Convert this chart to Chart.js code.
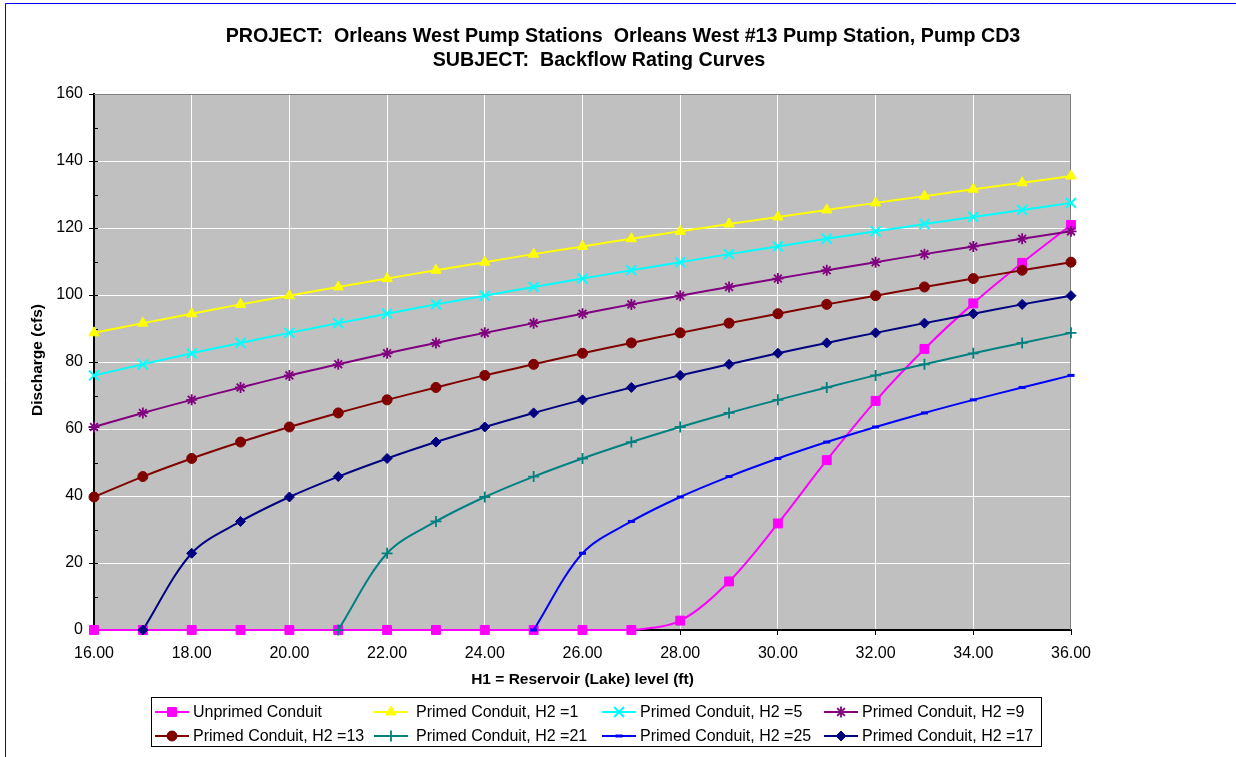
<!DOCTYPE html>
<html>
<head>
<meta charset="utf-8">
<script src="https://cdn.jsdelivr.net/npm/chart.js@4/dist/chart.umd.min.js"></script>
<style>
  html, body { margin: 0; padding: 0; background: #fff; }
  #wrap { width: 1236px; height: 757px; position: relative; }
</style>
</head>
<body>
<div id="wrap"><canvas id="c" width="1236" height="757"></canvas></div>
<script>
// ---- data ----
const levels = [16,17,18,19,20,21,22,23,24,25,26,27,28,29,30,31,32,33,34,35,36];
const seriesLabels = [
  "Unprimed Conduit",
  "Primed Conduit, H2 =1",
  "Primed Conduit, H2 =5",
  "Primed Conduit, H2 =9",
  "Primed Conduit, H2 =13",
  "Primed Conduit, H2 =21",
  "Primed Conduit, H2 =25",
  "Primed Conduit, H2 =17"
];
const unprimed = [0,0,0,0,0,0,0,0,0,0,0,0,2.8,14.5,31.8,50.7,68.4,83.9,97.5,109.6,120.9];
const primedH2_1 = [88.7,91.6,94.4,97.2,99.8,102.4,104.9,107.4,109.8,112.2,114.5,116.8,119.0,121.2,123.3,125.4,127.5,129.5,131.6,133.5,135.5];
const primedH2_5 = [76.0,79.3,82.6,85.7,88.7,91.6,94.4,97.2,99.8,102.4,104.9,107.4,109.8,112.2,114.5,116.8,119.0,121.2,123.3,125.4,127.5];
const primedH2_9 = [60.6,64.8,68.7,72.4,76.0,79.3,82.6,85.7,88.7,91.6,94.4,97.2,99.8,102.4,104.9,107.4,109.8,112.2,114.5,116.8,119.0];
const primedH2_13 = [39.7,45.8,51.2,56.1,60.6,64.8,68.7,72.4,76.0,79.3,82.6,85.7,88.7,91.6,94.4,97.2,99.8,102.4,104.9,107.4,109.8];
const primedH2_21 = [null,null,null,null,null,0,22.9,32.4,39.7,45.8,51.2,56.1,60.6,64.8,68.7,72.4,76.0,79.3,82.6,85.7,88.7];
const primedH2_25 = [null,null,null,null,null,null,null,null,null,0,22.9,32.4,39.7,45.8,51.2,56.1,60.6,64.8,68.7,72.4,76.0];
const primedH2_17 = [null,0,22.9,32.4,39.7,45.8,51.2,56.1,60.6,64.8,68.7,72.4,76.0,79.3,82.6,85.7,88.7,91.6,94.4,97.2,99.8];
const yTicks = [0,20,40,60,80,100,120,140,160];
const xTickLabels = ["16.00","18.00","20.00","22.00","24.00","26.00","28.00","30.00","32.00","34.00","36.00"];
const titleLines = ["PROJECT:  Orleans West Pump Stations  Orleans West #13 Pump Station, Pump CD3", "SUBJECT:  Backflow Rating Curves"];
const yTitle = "Discharge (cfs)";
const xTitle = "H1 = Reservoir (Lake) level (ft)";

// ---- styles ----
const allValues = [unprimed, primedH2_1, primedH2_5, primedH2_9, primedH2_13, primedH2_21, primedH2_25, primedH2_17];
const colors = ["#FF00FF","#FFFF00","#00FFFF","#800080","#800000","#008080","#0000FF","#000080"];
const styles = [
  {pointStyle:'rect', radius:6.3, bw:1},
  {pointStyle:'triangle', radius:6, bw:1},
  {pointStyle:'crossRot', radius:7, bw:2},
  {pointStyle:'star', radius:5.5, bw:1.8},
  {pointStyle:'circle', radius:5, bw:1},
  {pointStyle:'cross', radius:5.5, bw:1.8},
  {pointStyle:'line', radius:3.5, bw:3},
  {pointStyle:'rectRot', radius:5, bw:1}
];
const FONT = "'Liberation Sans', Arial, sans-serif";

const datasets = allValues.map((vals, i) => ({
  label: seriesLabels[i],
  data: levels.map((x, k) => ({x: x, y: vals[k]})),
  borderColor: colors[i],
  backgroundColor: colors[i],
  pointBackgroundColor: colors[i],
  pointBorderColor: colors[i],
  pointStyle: styles[i].pointStyle,
  pointRadius: styles[i].radius,
  pointHoverRadius: styles[i].radius,
  pointBorderWidth: styles[i].bw,
  borderWidth: 2,
  tension: 0.33,
  fill: false,
  spanGaps: false,
  clip: false,
  order: allValues.length - i
}));

const decor = {
  id: 'decor',
  beforeDraw(chart) {
    const ctx = chart.ctx, a = chart.chartArea;
    ctx.save();
    ctx.fillStyle = '#fff';
    ctx.fillRect(0, 0, chart.width, chart.height);
    ctx.fillStyle = '#C0C0C0';
    ctx.fillRect(a.left, a.top, a.right - a.left, a.bottom - a.top);
    ctx.restore();
  },
  beforeDatasetsDraw(chart) {
    const ctx = chart.ctx, a = chart.chartArea;
    const ys = chart.scales.y;
    ctx.save();
    // top/right plot border
    ctx.strokeStyle = '#808080';
    ctx.lineWidth = 1;
    ctx.beginPath();
    ctx.moveTo(a.left, a.top + 0.5);
    ctx.lineTo(a.right - 0.5, a.top + 0.5);
    ctx.lineTo(a.right - 0.5, a.bottom);
    ctx.stroke();
    // inner minor ticks
    ctx.strokeStyle = '#000';
    ctx.beginPath();
    for (let v = 10; v < 160; v += 10) {
      const py = Math.round(ys.getPixelForValue(v)) + 0.5;
      ctx.moveTo(a.left, py);
      ctx.lineTo(a.left + 4, py);
    }
    ctx.stroke();
    ctx.restore();
  },
  afterDraw(chart) {
    const ctx = chart.ctx, a = chart.chartArea;
    ctx.save();
    // titles
    ctx.fillStyle = '#000';
    ctx.textAlign = 'center';
    ctx.textBaseline = 'middle';
    ctx.font = 'bold 19.7px ' + FONT;
    ctx.fillText(titleLines[0], 623, 37);
    ctx.fillText(titleLines[1], 599, 61);
    // axis titles
    ctx.font = 'bold 15.5px ' + FONT;
    ctx.fillText(xTitle, (a.left + a.right) / 2, 680);
    ctx.save();
    ctx.translate(38, 360);
    ctx.rotate(-Math.PI / 2);
    ctx.fillText(yTitle, 0, 0);
    ctx.restore();
    // legend
    ctx.strokeStyle = '#000';
    ctx.lineWidth = 1;
    ctx.strokeRect(151.5, 697.5, 890, 49);
    const lineX = [155, 374, 602, 824];
    const textX = [193, 416, 640, 862];
    const rowY = [712, 736];
    ctx.font = '16px ' + FONT;
    ctx.textAlign = 'left';
    chart.data.datasets.forEach((ds, i) => {
      const col = i % 4, row = Math.floor(i / 4);
      const y = rowY[row], x0 = lineX[col];
      ctx.strokeStyle = ds.borderColor;
      ctx.lineWidth = 2;
      ctx.beginPath();
      ctx.moveTo(x0, y);
      ctx.lineTo(x0 + 34, y);
      ctx.stroke();
      ctx.fillStyle = ds.pointBackgroundColor;
      ctx.strokeStyle = ds.pointBorderColor;
      ctx.lineWidth = ds.pointBorderWidth;
      Chart.helpers.drawPoint(ctx, {pointStyle: ds.pointStyle, radius: ds.pointRadius, rotation: 0, borderWidth: ds.pointBorderWidth}, x0 + 17, y);
      ctx.fillStyle = '#000';
      ctx.fillText(ds.label, textX[col], y + 1);
    });
    // outer frame
    ctx.strokeStyle = '#0000FF';
    ctx.lineWidth = 1;
    ctx.beginPath();
    ctx.moveTo(5.5, chart.height);
    ctx.lineTo(5.5, 3.5);
    ctx.lineTo(chart.width, 3.5);
    ctx.stroke();
    ctx.restore();
  }
};

new Chart(document.getElementById('c'), {
  type: 'line',
  data: { datasets: datasets },
  plugins: [decor],
  options: {
    responsive: false,
    animation: false,
    events: [],
    layout: { padding: { left: 0, right: 165, top: 94, bottom: 0 } },
    plugins: { legend: { display: false }, title: { display: false }, tooltip: { enabled: false } },
    scales: {
      x: {
        type: 'linear', min: 16, max: 36,
        afterFit: s => { s.height = 127; },
        afterBuildTicks: s => { s.ticks = xTickLabels.map(t => ({value: parseFloat(t)})); },
        ticks: {
          stepSize: 2, autoSkip: false, maxRotation: 0, padding: 9,
          color: '#000', font: { family: FONT, size: 16 },
          callback: (v) => xTickLabels.find(t => parseFloat(t) === v) || ''
        },
        grid: {
          color: c => (c.tick && (c.tick.value === 16 || c.tick.value === 36)) ? 'rgba(0,0,0,0)' : '#FFFFFF',
          tickColor: '#000', tickLength: 5, lineWidth: 1
        },
        border: { display: true, color: '#000', width: 2 }
      },
      y: {
        type: 'linear', min: 0, max: 160,
        afterFit: s => { s.width = 94; },
        afterBuildTicks: s => { const t = []; for (let v = 0; v <= 160; v += 10) t.push({value: v}); s.ticks = t; },
        ticks: {
          autoSkip: false, padding: 6, color: '#000', font: { family: FONT, size: 16 },
          callback: v => yTicks.includes(v) ? String(v) : ''
        },
        grid: {
          color: c => (c.tick && yTicks.includes(c.tick.value) && c.tick.value > 0 && c.tick.value < 160) ? '#FFFFFF' : 'rgba(0,0,0,0)',
          tickColor: c => (c.tick && yTicks.includes(c.tick.value)) ? '#000' : 'rgba(0,0,0,0)',
          tickLength: 5, lineWidth: 1
        },
        border: { display: true, color: '#000', width: 2 }
      }
    }
  }
});
</script>
</body>
</html>
